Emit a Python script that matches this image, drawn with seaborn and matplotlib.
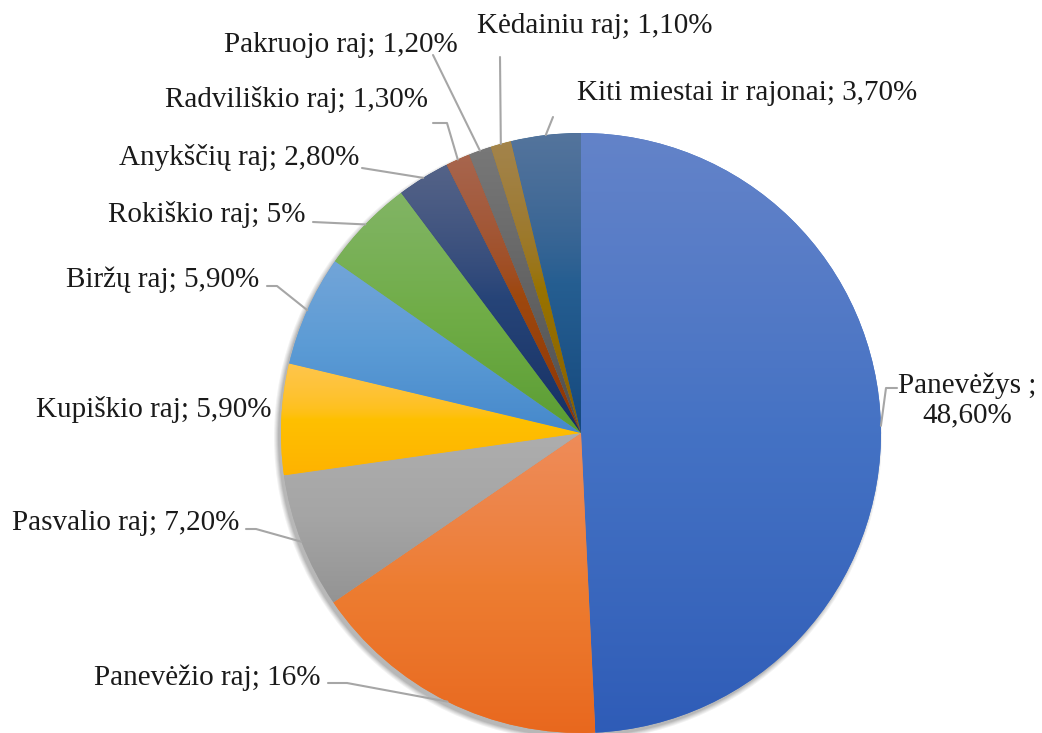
import numpy as np
import seaborn as sns
import matplotlib.pyplot as plt
from matplotlib.colors import to_rgb
from matplotlib.patches import Circle

# duomenys
names = ['Panevėžys ', 'Panevėžio raj', 'Pasvalio raj', 'Kupiškio raj', 'Biržų raj',
         'Rokiškio raj', 'Anykščių raj', 'Radviliškio raj', 'Pakruojo raj',
         'Kėdainiu raj', 'Kiti miestai ir rajonai']
values = [48.6, 16, 7.2, 5.9, 5.9, 5, 2.8, 1.3, 1.2, 1.1, 3.7]
pct_text = ['48,60%', '16%', '7,20%', '5,90%', '5,90%', '5%', '2,80%',
            '1,30%', '1,20%', '1,10%', '3,70%']
base_colors = ['#4472C4', '#ED7D31', '#A5A5A5', '#FFC000', '#5B9BD5', '#70AD47',
               '#264478', '#9E480E', '#636363', '#997300', '#255E91']

sns.set_theme(style='white')
plt.rcParams['font.family'] = ['Liberation Serif', 'DejaVu Serif']

W, H = 1042, 733
CX, CY, R = 581, 433, 300   # pikseliais nuo virsaus


def px(x, y):
    return x, H - y


def to_lin(c):
    c = np.asarray(c)
    return np.where(c <= 0.04045, c / 12.92, ((c + 0.055) / 1.055) ** 2.4)


def to_srgb(c):
    c = np.clip(c, 0, 1)
    return np.where(c <= 0.0031308, c * 12.92, 1.055 * c ** (1 / 2.4) - 0.055)


# etikeciu vieta (pikseliais): x, baseline y, lygiavimas, linijos pradzios taskai
layout = [
    (967, 422, 'center', [(897, 388), (886, 388)]),
    (321, 685, 'right', [(328, 683), (347, 683)]),
    (239, 530, 'right', [(246, 529), (256, 529)]),
    (272, 417, 'right', []),
    (259, 287, 'right', [(267, 286), (277, 286)]),
    (305, 222, 'right', [(313, 222)]),
    (359, 165, 'right', [(362, 168)]),
    (428, 107, 'right', [(433, 123), (447, 123)]),
    (458, 52,  'right', [(433, 55)]),
    (477, 33,  'left',  [(500, 57)]),
    (577, 100, 'left',  [(553, 117)]),
]

fig = plt.figure(figsize=(W / 100, H / 100), dpi=100)
ax = fig.add_axes([0, 0, 1, 1])

# seselis
for k, a in enumerate([0.05, 0.05, 0.06, 0.07, 0.08]):
    sh = Circle(px(CX - 3, CY + 4), R + 4 - k, color='black', alpha=a, lw=0, zorder=0)
    ax.add_patch(sh)

colors = sns.color_palette(base_colors)
wedges, _ = ax.pie(values, colors=colors, startangle=90, counterclock=False,
                   radius=R, center=px(CX, CY), wedgeprops=dict(linewidth=0))

# gradientas kiekvienam sektoriui (kaip Excel: virsuje sviesiau, apacioje tamsiau)
for w, c in zip(wedges, colors):
    lin = to_lin(to_rgb(c))
    top = to_lin(to_srgb(lin * 0.93 + 0.07))
    bot = lin ** 1.25
    t = np.linspace(0, 1, 64)[:, None]
    lower = bot + (lin - bot) * np.clip(t * 2, 0, 1)
    upper = lin + (top - lin) * np.clip(t * 2 - 1, 0, 1)
    grad = to_srgb(np.where(t < 0.5, lower, upper))[:, None, :]
    v = w.get_path().vertices
    im = ax.imshow(grad, extent=[v[:, 0].min(), v[:, 0].max(), v[:, 1].min(), v[:, 1].max()],
                   origin='lower', interpolation='bilinear', aspect='auto', zorder=2)
    im.set_clip_path(w)

# etiketes ir linijos
for i, (w, name, pt, (tx, ty, ha, pts)) in enumerate(zip(wedges, names, pct_text, layout)):
    sep = ';\n' if i == 0 else '; '
    ax.text(*px(tx, ty), f'{name}{sep}{pt}', ha=ha, va='baseline', fontsize=21,
            color='#1a1a1a', multialignment='center', linespacing=1.15, zorder=5)
    if pts:
        mid = np.deg2rad((w.theta1 + w.theta2) / 2)
        end = (w.center[0] + R * np.cos(mid), w.center[1] + R * np.sin(mid))
        xs = [px(*p)[0] for p in pts] + [end[0]]
        ys = [px(*p)[1] for p in pts] + [end[1]]
        ax.plot(xs, ys, color='#a6a6a6', lw=1.5, zorder=4)

ax.set_xlim(0, W)
ax.set_ylim(0, H)
ax.set_aspect('equal')
ax.axis('off')

plt.savefig('out.png', dpi=100)
